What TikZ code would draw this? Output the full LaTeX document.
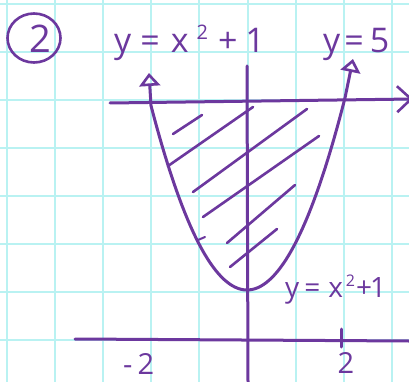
\documentclass[tikz,border=0pt]{standalone}
\usepackage{fontspec}
\setmainfont{Open Sans}
\usetikzlibrary{arrows.meta,shapes.geometric}
\definecolor{ink}{RGB}{108,56,158}
\definecolor{gridc}{RGB}{185,242,242}
\tikzset{
  ink/.style={draw=ink, line width=3pt, line cap=round, line join=round},
  hatch/.style={ink, line width=2.6pt},
  lbl/.style={text=ink, inner sep=0pt, font=\fontsize{34}{34}\selectfont},
  lblsmall/.style={text=ink, inner sep=0pt, font=\fontsize{28}{28}\selectfont},
  tiklbl/.style={text=ink, inner sep=0pt, font=\fontsize{29}{29}\selectfont},
}
\begin{document}
\begin{tikzpicture}[x=1pt, y=-1pt]
\useasboundingbox (0,0) rectangle (409,382);
\clip (0,0) rectangle (409,382);
\fill[white] (0,0) rectangle (409,382);
% graph paper
\foreach \k in {0,...,8} {
  \draw[gridc, line width=2pt] ({7+48.1*\k},0) -- ({7+48.1*\k},382);
  \draw[gridc, line width=2pt] (0,{4+48*\k}) -- (409,{4+48*\k});
}
% named points
\coordinate (xaL) at (75,339);
\coordinate (xaR) at (409,341);
\coordinate (yaT) at (247,66);
\coordinate (yaB) at (248,382);
\coordinate (l5L) at (110,103);
\coordinate (l5R) at (413,99);
\coordinate (tipL) at (149,73);
\coordinate (tipR) at (353,59);
\coordinate (tick2T) at (341,329);
\coordinate (tick2B) at (341,347);
% axes
\draw[ink] (xaL) -- (xaR);
\draw[ink] (yaT) -- (yaB);
\draw[ink] (tick2T) -- (tick2B);
% line y=5
\draw[ink, -{Straight Barb[length=14pt, width=26pt, line width=2.6pt]}] (l5L) -- (l5R);
% parabola with arrows
\draw[ink, {Triangle[open, length=13pt, width=21pt, line width=2.6pt]}-{Triangle[open, length=13pt, width=20pt, line width=2.6pt]}]
  (tipL) -- plot[domain=-96:98, samples=70] ({247+\x},{290-0.02*\x*\x}) -- (tipR);
% hatching
\draw[hatch] (173,134) -- (202,115);
\draw[hatch] (168,166) -- (253,107);
\draw[hatch] (193,192) -- (307,109);
\draw[hatch] (203,217) -- (319,136);
\draw[hatch] (227,243) -- (295,185);
\draw[hatch] (230,267) -- (277,229);
\draw[hatch, line width=2pt] (198,240) -- (205,237);
% labels
\node[draw=ink, line width=2.6pt, ellipse, minimum width=53pt, minimum height=49pt, inner sep=0pt] (num) at (34,38) {};
\node[lbl, font=\fontsize{38}{38}\selectfont, anchor=base] (numtxt) at (40,53) {2};
\node[lbl, anchor=base west] (topA) at (114,53) {y\kern9pt=\kern11pt x\kern8pt\raisebox{13pt}{\fontsize{20}{20}\selectfont 2}\kern10pt+\kern8pt 1};
\node[lbl, anchor=base west] (topB) at (323,53) {y\kern4pt=\kern6pt 5};
\node[lblsmall, anchor=base west] (botA) at (285,297) {y\kern5pt=\kern8pt x\kern3pt\raisebox{11pt}{\fontsize{16}{16}\selectfont 2}\kern1pt+\kern-2pt 1};
\node[tiklbl, anchor=base west] (m2) at (123,374) {-\kern5pt 2};
\node[tiklbl, anchor=base] (p2) at (346,373) {2};
\end{tikzpicture}
\end{document}
